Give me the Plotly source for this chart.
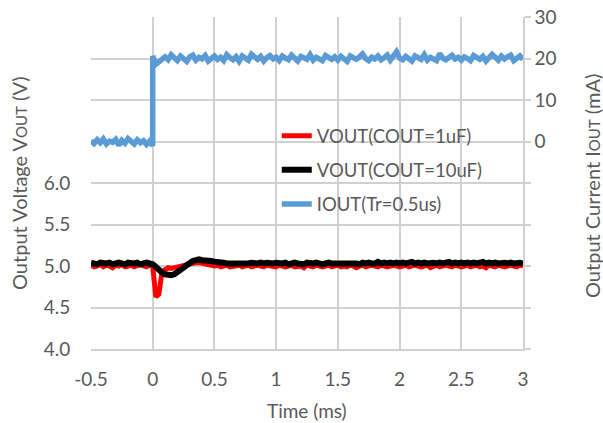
import plotly.graph_objects as go

# ---- data ----
# sample times (ms)
t_v = [round(-0.5 + 0.025 * i, 3) for i in range(141)]
t_i_pre = [round(-0.5 + 0.025 * i, 3) for i in range(21)]
t_i_post = [round(0.025 * i, 3) for i in range(121)]

# VOUT with COUT=1uF (V)
vout_1uf = [
    5.01, 4.99, 5.00, 5.02, 4.99, 5.01, 5.00, 4.98, 5.01, 5.00, 5.02, 4.99, 5.00, 5.01, 4.99, 5.00, 5.02, 5.00, 4.99, 5.01,
    5.00, 4.63, 4.66, 4.93, 4.96, 4.98, 4.97, 4.98, 4.99, 5.00, 5.01, 5.02, 5.03, 5.04, 5.04, 5.04, 5.03, 5.02, 5.01, 5.00,
    5.00, 5.01, 4.99, 5.00, 5.01, 4.99, 5.00, 5.00, 5.01, 4.99, 5.00, 5.01, 4.99, 5.00, 5.01, 5.00, 4.99, 5.01, 5.00, 5.00,
    4.99, 5.01, 5.00, 4.99, 5.00, 5.01, 4.99, 5.00, 5.00, 4.98, 5.01, 5.00, 4.99, 5.01, 5.00, 4.99, 5.00, 5.01, 4.99, 5.00,
    5.01, 4.99, 5.00, 4.99, 5.01, 5.00, 4.98, 5.00, 5.01, 4.99, 5.00, 5.01, 5.00, 4.99, 5.01, 5.00, 4.99, 5.00, 5.01, 5.00,
    4.99, 5.00, 5.01, 4.99, 5.00, 5.01, 5.00, 4.99, 5.00, 5.01, 4.98, 5.00, 5.01, 4.99, 5.00, 5.01, 5.00, 4.99, 5.01, 5.00,
    4.99, 5.00, 5.01, 4.99, 5.00, 5.01, 4.99, 5.00, 4.98, 5.01, 5.00, 4.99, 5.01, 5.00, 4.99, 5.00, 5.01, 5.00, 4.99, 5.01, 5.00,
]

# VOUT with COUT=10uF (V)
vout_10uf = [
    5.04, 5.03, 5.02, 5.04, 5.03, 5.03, 5.04, 5.02, 5.03, 5.04, 5.03, 5.02, 5.04, 5.03, 5.03, 5.04, 5.02, 5.03, 5.04, 5.03,
    5.02, 4.99, 4.95, 4.92, 4.90, 4.89, 4.89, 4.90, 4.92, 4.95, 4.98, 5.01, 5.04, 5.06, 5.07, 5.08, 5.07, 5.07, 5.06, 5.06,
    5.05, 5.05, 5.04, 5.04, 5.03, 5.03, 5.02, 5.02, 5.03, 5.02, 5.03, 5.03, 5.04, 5.03, 5.03, 5.04, 5.03, 5.04, 5.03, 5.03,
    5.04, 5.03, 5.03, 5.04, 5.02, 5.03, 5.04, 5.03, 5.03, 5.02, 5.04, 5.03, 5.03, 5.04, 5.03, 5.02, 5.03, 5.04, 5.03, 5.03,
    5.04, 5.03, 5.03, 5.04, 5.03, 5.04, 5.03, 5.02, 5.04, 5.03, 5.04, 5.03, 5.03, 5.05, 5.03, 5.04, 5.03, 5.04, 5.03, 5.04,
    5.03, 5.04, 5.03, 5.04, 5.05, 5.03, 5.04, 5.03, 5.04, 5.03, 5.04, 5.04, 5.03, 5.04, 5.03, 5.04, 5.05, 5.03, 5.04, 5.03,
    5.04, 5.03, 5.04, 5.03, 5.04, 5.03, 5.04, 5.05, 5.03, 5.04, 5.03, 5.04, 5.03, 5.04, 5.04, 5.03, 5.04, 5.03, 5.04, 5.04, 5.03,
]

# IOUT (mA), before and after the load step at t = 0
iout_pre = [0.2, -0.5, 0.4, -0.3, 0.6, -0.6, 0.1, -0.2, 0.5, -0.9, 0.3, -0.4, 0.7, -0.1, -0.6, 0.4, -0.3, 0.2, -0.7, 0.1, -1.0]
iout_post = [
    20.6, 18.6, 19.2, 19.8, 20.4, 19.7, 20.9, 20.2, 19.5, 20.6, 20.0, 19.3, 20.4, 20.8, 19.6, 20.3, 19.9, 20.7, 19.4, 20.1, 20.6,
    19.8, 20.3, 19.5, 20.9, 20.2, 19.7, 20.4, 19.3, 20.6, 20.0, 19.6, 21.0, 20.3, 19.8, 20.5, 19.4, 20.2, 20.7, 19.9, 20.3,
    19.5, 20.6, 20.1, 19.7, 20.8, 20.0, 19.4, 20.5, 20.2, 19.8, 20.9, 19.6, 20.3, 20.0, 19.5, 20.7, 20.1, 19.8, 20.4, 19.6,
    20.5, 20.0, 19.3, 20.6, 20.2, 19.8, 20.4, 21.1, 20.0, 19.5, 20.3, 19.9, 20.6, 19.7, 20.2, 20.8, 19.6, 20.4, 21.6, 20.1,
    19.7, 20.5, 20.0, 19.4, 20.6, 20.2, 19.8, 20.9, 19.6, 20.3, 20.0, 19.5, 21.2, 20.1, 19.7, 20.4, 20.8, 19.9, 20.3, 19.6,
    20.4, 20.0, 19.5, 20.7, 20.1, 19.8, 20.5, 19.4, 20.2, 21.0, 20.3, 19.6, 20.6, 19.9, 20.4, 20.8, 19.5, 20.2, 20.6, 19.8,
]

x_ticks = [-0.5, 0, 0.5, 1, 1.5, 2, 2.5, 3]
x_labels = ["-0.5", "0", "0.5", "1", "1.5", "2", "2.5", "3"]
v_ticks = [4.0, 4.5, 5.0, 5.5, 6.0, 6.5, 7.0, 7.5, 8.0]
v_labels = ["4.0", "4.5", "5.0", "5.5", "6.0", "", "", "", ""]
i_ticks = [-50, -40, -30, -20, -10, 0, 10, 20, 30]
i_labels = ["", "", "", "", "", "0", "10", "20", "30"]

names = ["VOUT(COUT=1uF)", "VOUT(COUT=10uF)", "IOUT(Tr=0.5us)"]
colors = ["#FF0000", "#000000", "#5B9BD5"]
x_title = "Time (ms)"
y_title = "Output Voltage V<span style='font-size:15px'>OUT</span> (V)"
y2_title = "Output Current I<span style='font-size:15px'>OUT</span> (mA)"

FONT = "Lato"
GRAY = "#595959"
GRID = "#D0D0D0"
CLEAR = "rgba(0,0,0,0)"

fig = go.Figure()
fig.add_trace(go.Scatter(x=t_v, y=vout_1uf, name=names[0], mode="lines",
                         line=dict(color=colors[0], width=5), legendgroup="a"))
fig.add_trace(go.Scatter(x=t_v, y=vout_10uf, name=names[1], mode="lines",
                         line=dict(color=colors[1], width=6), legendgroup="b"))
fig.add_trace(go.Scatter(x=t_i_pre + t_i_post, y=iout_pre + iout_post, name=names[2], mode="lines",
                         line=dict(color=colors[2], width=5.5), legendgroup="c", yaxis="y2"))

fig.update_layout(
    width=603, height=423,
    margin=dict(l=91, r=80, t=17, b=74),
    paper_bgcolor="white", plot_bgcolor="white",
    font=dict(family=FONT, color=GRAY),
    showlegend=True,
    legend=dict(x=0.43, y=0.698, xanchor="left", yanchor="top",
                bgcolor=CLEAR, font=dict(size=18.5, color=GRAY, family=FONT),
                traceorder="grouped", tracegroupgap=7, itemwidth=30),
    xaxis=dict(range=[-0.5, 3], tickmode="array", tickvals=x_ticks, ticktext=x_labels,
               showgrid=True, gridcolor=GRID, gridwidth=1.5, zeroline=False,
               showline=True, linecolor=GRID, linewidth=1.5,
               ticks="outside", ticklen=12, tickcolor=CLEAR, automargin=False,
               tickfont=dict(size=19, color=GRAY)),
    yaxis=dict(range=[4, 8], tickmode="array", tickvals=v_ticks, ticktext=v_labels,
               showgrid=True, gridcolor=GRID, gridwidth=1.5, zeroline=False,
               showline=False, ticks="outside", ticklen=16, tickcolor=CLEAR, automargin=False,
               tickfont=dict(size=19, color=GRAY)),
    yaxis2=dict(range=[-50, 30], tickmode="array", tickvals=i_ticks, ticktext=i_labels,
                overlaying="y", side="right", showgrid=False, zeroline=False,
                showline=True, linecolor=GRID, linewidth=1.5,
                ticks="outside", ticklen=6, tickcolor=GRID, tickwidth=1.5, automargin=False,
                tickfont=dict(size=19, color=GRAY)),
    shapes=[dict(type="rect", xref="paper", yref="paper", layer="between",
                 x0=0.3125, x1=0.965, y0=0.385, y1=0.699,
                 fillcolor="white", line=dict(width=0))],
    annotations=[
        dict(text=x_title, xref="paper", yref="paper", x=0.5, y=0, yshift=-61,
             xanchor="center", yanchor="middle", showarrow=False,
             font=dict(size=19, color=GRAY, family=FONT)),
        dict(text=y_title, xref="paper", yref="paper", x=0, y=0.5, xshift=-72,
             xanchor="center", yanchor="middle", textangle=-90, showarrow=False,
             font=dict(size=20, color=GRAY, family=FONT)),
        dict(text=y2_title, xref="paper", yref="paper", x=1, y=0.5, xshift=69, yshift=-3,
             xanchor="center", yanchor="middle", textangle=-90, showarrow=False,
             font=dict(size=20, color=GRAY, family=FONT)),
    ],
)

fig.write_html("out.html", config={"displayModeBar": False},
               post_script="document.body.style.margin='0';")
